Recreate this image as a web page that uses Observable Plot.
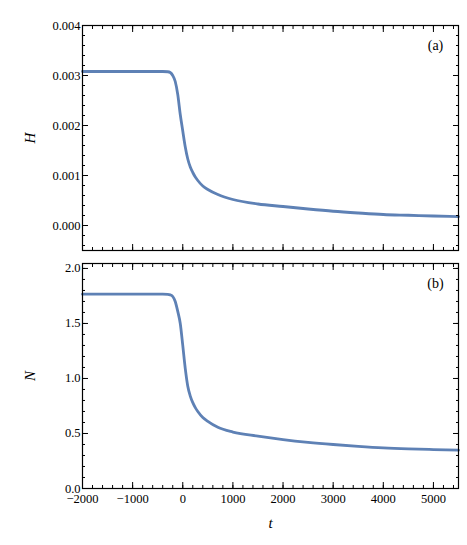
<!DOCTYPE html>
<html>
<head>
<meta charset="utf-8">
<script src="https://cdn.jsdelivr.net/npm/d3@7"></script>
<script src="https://cdn.jsdelivr.net/npm/@observablehq/plot@0.6"></script>
<style>
  html, body { margin: 0; padding: 0; background: #fff; }
  #chart { width: 467px; height: 545px; }
  #chart svg { display: block; }
  #chart svg text { font-family: "Liberation Serif", "Times New Roman", serif; }
</style>
</head>
<body>
<div id="chart"></div>
<script>
// Data
const t = [-2000, -1000, -400, -300, -250, -200, -150, -100, -50, 0, 50, 100, 150, 200, 250, 300, 400, 500, 700, 1000, 1500, 2000, 2500, 3000, 3500, 4000, 4500, 5000, 5500];
const H = [0.00308, 0.00308, 0.00308, 0.003075, 0.00306, 0.00300, 0.00288, 0.00262, 0.00222, 0.00189, 0.00157, 0.00133, 0.00117, 0.00106, 0.00097, 0.00090, 0.00079, 0.00072, 0.00062, 0.00052, 0.00043, 0.00038, 0.00033, 0.000285, 0.00025, 0.00022, 0.000205, 0.00019, 0.000178];
const N = [1.766, 1.766, 1.766, 1.765, 1.76, 1.745, 1.70, 1.61, 1.50, 1.30, 1.09, 0.93, 0.84, 0.78, 0.735, 0.70, 0.645, 0.61, 0.556, 0.513, 0.476, 0.445, 0.42, 0.40, 0.383, 0.369, 0.36, 0.354, 0.348];

const xMajor = [-2000, -1000, 0, 1000, 2000, 3000, 4000, 5000];
const xMinor = d3.range(-2000, 5501, 200);
const hMajor = [0, 0.001, 0.002, 0.003, 0.004];
const hMinor = d3.range(-4, 41, 2).map(d => d / 10000);
const nMajor = [0, 0.5, 1.0, 1.5, 2.0];
const nMinor = d3.range(0, 21, 1).map(d => d / 10);

const panelLabels = ["(a)", "(b)"];
const yLabels = ["H", "N"];
const xLabel = "t";

const rowsH = t.map((d, i) => ({t: d, v: H[i]}));
const rowsN = t.map((d, i) => ({t: d, v: N[i]}));

const lineColor = "#5E81B5";
const font = "'Liberation Serif', 'Times New Roman', serif";

function frameTicks(xM, xm, yM, ym) {
  const out = [];
  for (const anchor of ["bottom", "top"]) {
    out.push(Plot.axisX(xM, {anchor, tickSize: -6, fill: "none", label: null}));
    out.push(Plot.axisX(xm, {anchor, tickSize: -3, fill: "none", label: null}));
  }
  for (const anchor of ["left", "right"]) {
    out.push(Plot.axisY(yM, {anchor, tickSize: -6, fill: "none", label: null}));
    out.push(Plot.axisY(ym, {anchor, tickSize: -3, fill: "none", label: null}));
  }
  return out;
}

const topPanel = Plot.plot({
  width: 467,
  height: 256,
  marginLeft: 82,
  marginRight: 9,
  marginTop: 25,
  marginBottom: 6,
  style: {fontFamily: font, fontSize: "12.5px", background: "white", color: "black"},
  x: {domain: [-2000, 5500], axis: null},
  y: {domain: [-0.0005, 0.004], axis: null},
  marks: [
    Plot.line(rowsH, {x: "t", y: "v", stroke: lineColor, strokeWidth: 2.8, curve: "monotone-x"}),
    ...frameTicks(xMajor, xMinor, hMajor, hMinor),
    Plot.axisY(hMajor, {anchor: "left", tickSize: 0, tickPadding: 2, tickFormat: d3.format(".3f"), label: null, fontFamily: font}),
    Plot.frame({stroke: "black", strokeWidth: 1.2}),
    Plot.text([panelLabels[0]], {frameAnchor: "top-right", dx: -23, dy: 20, textAnchor: "middle", lineAnchor: "middle", fontSize: 14, fontFamily: font}),
    Plot.text([yLabels[0]], {frameAnchor: "left", dx: -52, rotate: -90, fontSize: 15, fontStyle: "italic", fontFamily: font, textAnchor: "middle", lineAnchor: "middle"})
  ]
});

const bottomPanel = Plot.plot({
  width: 467,
  height: 289,
  marginLeft: 82,
  marginRight: 9,
  marginTop: 7,
  marginBottom: 57,
  style: {fontFamily: font, fontSize: "12.5px", background: "white", color: "black"},
  x: {domain: [-2000, 5500], axis: null},
  y: {domain: [0, 2.045], axis: null},
  marks: [
    Plot.line(rowsN, {x: "t", y: "v", stroke: lineColor, strokeWidth: 2.8, curve: "monotone-x"}),
    ...frameTicks(xMajor, xMinor, nMajor, nMinor),
    Plot.axisY(nMajor, {anchor: "left", tickSize: 0, tickPadding: 2, tickFormat: d3.format(".1f"), label: null, fontFamily: font}),
    Plot.axisX(xMajor, {anchor: "bottom", tickSize: 0, tickPadding: 6, tickFormat: d => d3.format("d")(d).replace("-", "\u2212"), label: null, fontFamily: font}),
    Plot.frame({stroke: "black", strokeWidth: 1.2}),
    Plot.text([panelLabels[1]], {frameAnchor: "top-right", dx: -23, dy: 20, textAnchor: "middle", lineAnchor: "middle", fontSize: 14, fontFamily: font}),
    Plot.text([yLabels[1]], {frameAnchor: "left", dx: -52, rotate: -90, fontSize: 15, fontStyle: "italic", fontFamily: font, textAnchor: "middle", lineAnchor: "middle"}),
    Plot.text([xLabel], {frameAnchor: "bottom", dy: 35, fontSize: 15, fontStyle: "italic", fontFamily: font, textAnchor: "middle", lineAnchor: "middle"})
  ]
});

document.getElementById("chart").append(topPanel, bottomPanel);
</script>
</body>
</html>
